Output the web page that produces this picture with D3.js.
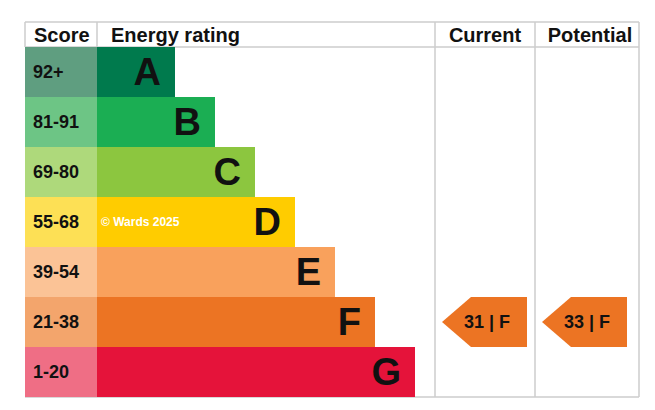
<!DOCTYPE html><html><head><meta charset="utf-8"><script src="https://cdn.jsdelivr.net/npm/d3@7"></script>
<style>body{margin:0;background:#fff}text{font-family:"Liberation Sans",Arial,sans-serif;font-weight:bold}</style></head><body><svg id="c" width="655" height="410"></svg><script>
const bands=["A","B","C","D","E","F","G"];
const scores=["92+","81-91","69-80","55-68","39-54","21-38","1-20"];
const barColors=["#007a4d","#1bae53","#8cc63f","#ffcc00","#f9a15c","#ec7423","#e5133a"];
const scoreColors=["#5f9e80","#6dc585","#aed97b","#fde055","#fbc396","#f3a56c","#ef6e85"];
const current={score:31,band:"F"}, potential={score:33,band:"F"};
const svg=d3.select("#c");
const y=d3.scaleBand().domain(bands).range([47,397]).padding(0);
const x=d3.scaleLinear().domain([0,7]).range([135,415]);
const g="#cccccc";
svg.append("line").attr("x1",25).attr("x2",639).attr("y1",22).attr("y2",22).attr("stroke",g).attr("stroke-width",1.5);
svg.append("line").attr("x1",25).attr("x2",639).attr("y1",47).attr("y2",47).attr("stroke",g).attr("stroke-width",1.5);
svg.append("line").attr("x1",25).attr("x2",639).attr("y1",397).attr("y2",397).attr("stroke",g).attr("stroke-width",1.5);
[25,97].forEach(v=>svg.append("line").attr("x1",v).attr("x2",v).attr("y1",22).attr("y2",47).attr("stroke",g).attr("stroke-width",1.5));
[435,535,639].forEach(v=>svg.append("line").attr("x1",v).attr("x2",v).attr("y1",22).attr("y2",397).attr("stroke",g).attr("stroke-width",1.5));
[["Score",34],["Energy rating",111],["Current",485,"middle"],["Potential",590,"middle"]].forEach(d=>svg.append("text").attr("x",d[1]).attr("y",42).attr("font-size",20).attr("text-anchor",d[2]||"start").attr("fill","#111").text(d[0]));
bands.forEach((b,i)=>{
 svg.append("rect").attr("x",25).attr("y",y(b)).attr("width",72).attr("height",y.bandwidth()).attr("fill",scoreColors[i]);
 svg.append("text").attr("x",33).attr("y",y(b)+31).attr("font-size",18).attr("fill","#111").text(scores[i]);
 svg.append("rect").attr("x",97).attr("y",y(b)).attr("width",x(i+1)-97).attr("height",y.bandwidth()).attr("fill",barColors[i]);
 svg.append("text").attr("x",x(i+1)-14).attr("y",y(b)+38).attr("font-size",38).attr("text-anchor","end").attr("fill","#111").text(b);
});
svg.append("text").attr("x",101).attr("y",y("D")+29).attr("font-size",12).attr("fill","#fff").text("© Wards 2025");
function arrow(cx,d){
 const yb=y(d.band),h=y.bandwidth();
 const l=cx-43,r=cx+42;
 svg.append("path").attr("d",`M${l},${yb+h/2}L${l+29},${yb}L${r},${yb}L${r},${yb+h}L${l+29},${yb+h}Z`).attr("fill",barColors[bands.indexOf(d.band)]);
 svg.append("text").attr("x",cx+2).attr("y",yb+h/2+6).attr("font-size",18).attr("text-anchor","middle").attr("fill","#111").text(`${d.score} | ${d.band}`);
}
arrow(485,current);arrow(585,potential);
</script></body></html>
